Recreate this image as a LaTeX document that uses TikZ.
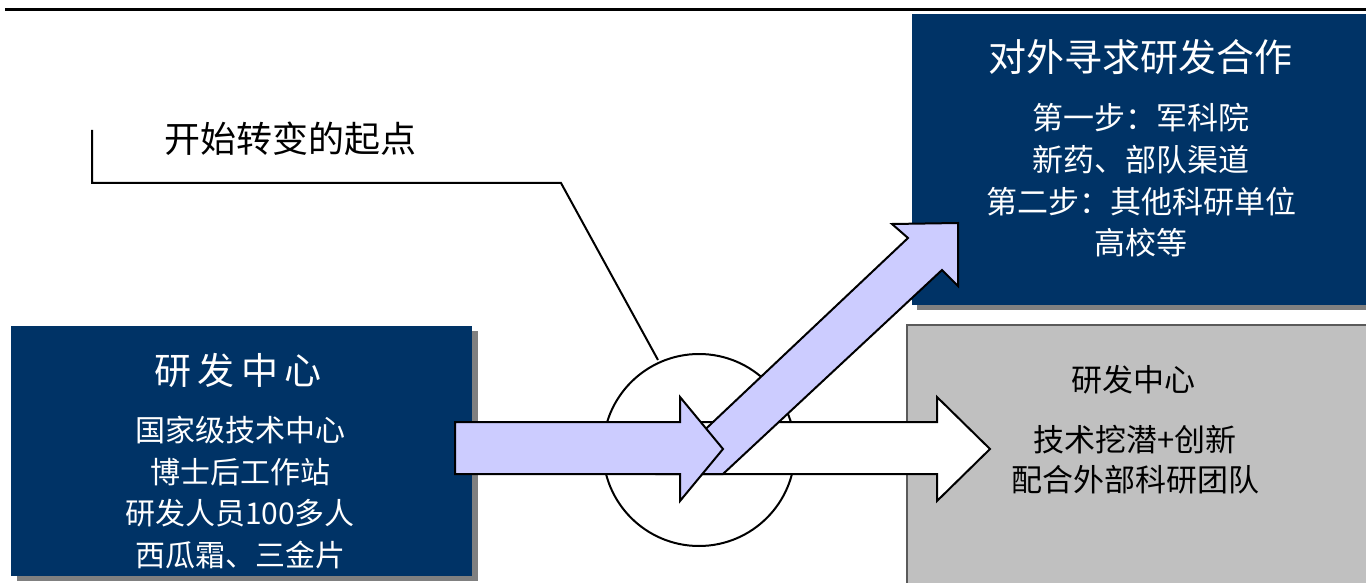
\documentclass[tikz,border=0pt]{standalone}
\usepackage{fontspec}
\newfontfamily\cjk{Noto Sans CJK SC}
\definecolor{navy}{RGB}{0,51,102}
\definecolor{arrowblue}{RGB}{204,204,255}
\definecolor{boxgray}{RGB}{192,192,192}
\definecolor{shadowgray}{RGB}{128,128,128}
\definecolor{edgegray}{RGB}{90,90,90}
\begin{document}
\begin{tikzpicture}[x=1pt,y=-1pt,line join=miter,
  navybox/.style={rectangle,fill=navy,inner sep=0pt},
  shadowbox/.style={rectangle,fill=shadowgray,inner sep=0pt},
  graybox/.style={rectangle,fill=boxgray,draw=edgegray,line width=1.2pt,inner sep=0pt},
  whitetitle/.style={text=white,font=\cjk\fontsize{37}{44}\selectfont,inner sep=0pt},
  whitebody/.style={text=white,align=center,inner sep=0pt,font=\cjk\fontsize{30}{41.7}\selectfont},
  blacktitle/.style={text=black,font=\cjk\fontsize{31}{38}\selectfont,inner sep=0pt},
  blackbody/.style={text=black,align=center,inner sep=0pt,font=\cjk\fontsize{31}{40}\selectfont},
  bluearrow/.style={fill=arrowblue,draw=black,line width=2pt},
  whitearrow/.style={fill=white,draw=black,line width=2pt},
  calloutline/.style={draw=black,line width=2pt}]
\useasboundingbox (0,0) rectangle (1366,583);
\clip (0,0) rectangle (1366,583);
\fill[white] (0,0) rectangle (1366,583);

% top rule
\draw[line width=3pt] (5,10) -- (1366,10);

% callout
\node[text=black,font=\cjk\fontsize{36}{42}\selectfont,inner sep=0pt] (callout) at (290,139) {开始转变的起点};
\coordinate (c1) at (92,130);
\coordinate (c2) at (92,183);
\coordinate (c3) at (561,183);
\coordinate (c4) at (658,360);
\draw[calloutline] (c1) -- (c2) -- (c3) -- (c4);

% left box
\node[shadowbox,minimum width=461,minimum height=250] at (247.5,456) {};
\node[navybox,minimum width=461,minimum height=250] (lbox) at (241.5,451) {};
\node[whitetitle] (ltitle) at (238,370) {研\,发\,中\,心};
\node[whitebody] (lbody) at (240,492.5) {国家级技术中心\\博士后工作站\\研发人员100多人\\西瓜霜、三金片};

% top right box
\node[shadowbox,minimum width=460,minimum height=291] at (1147,164.5) {};
\node[navybox,minimum width=460,minimum height=291] (tbox) at (1142,159.5) {};
\node[whitetitle,font=\cjk\fontsize{38}{44}\selectfont] (ttitle) at (1140,57) {对外寻求研发合作};
\node[whitebody,font=\cjk\fontsize{31}{41.7}\selectfont] (tbody) at (1141,180.5) {第一步：军科院\\新药、部队渠道\\第二步：其他科研单位\\高校等};

% gray box
\node[graybox,minimum width=465,minimum height=265] (gbox) at (1139.5,457.5) {};
\node[blacktitle] (gtitle) at (1133,380) {研发中心};
\node[blackbody] (gbody) at (1135,460) {技术挖潜+创新\\配合外部科研团队};

% circle
\node[circle,draw=black,fill=white,line width=2pt,minimum size=192,inner sep=0pt] (hub) at (699,450) {};

% white arrow
\draw[whitearrow] (690,422) -- (937,422) -- (937,397) -- (990,449) -- (937,501) -- (937,474) -- (690,474) -- cycle;
% diagonal arrow
\draw[bluearrow] (658,474) -- (908,238) -- (892,224) -- (958,223) -- (958,286) -- (942,270) -- (723,474) -- cycle;
% horizontal blue arrow
\draw[bluearrow] (455,422) -- (680,422) -- (680,397) -- (723,449) -- (680,501) -- (680,474) -- (455,474) -- cycle;
\end{tikzpicture}
\end{document}
